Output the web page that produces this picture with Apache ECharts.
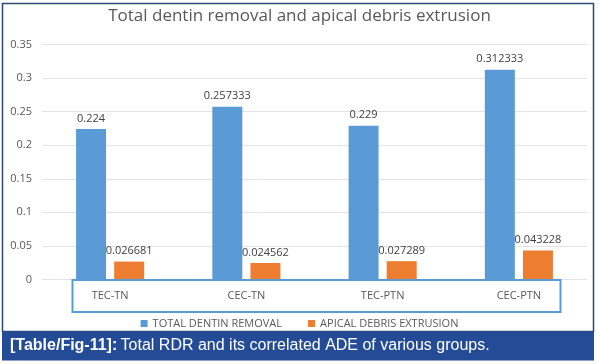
<!DOCTYPE html>
<html><head><meta charset="utf-8">
<script src="https://cdn.jsdelivr.net/npm/echarts@6/dist/echarts.min.js"></script>
<style>html,body{margin:0;padding:0;background:#fff}#c{width:599px;height:364px}</style>
</head><body><div id="c"></div>
<script>
const categories = ['TEC-TN', 'CEC-TN', 'TEC-PTN', 'CEC-PTN'];
const totalDentinRemoval = [0.224, 0.257333, 0.229, 0.312333];
const apicalDebrisExtrusion = [0.026681, 0.024562, 0.027289, 0.043228];
const seriesNames = ['TOTAL DENTIN REMOVAL', 'APICAL DEBRIS EXTRUSION'];
const yTicks = [0, 0.05, 0.1, 0.15, 0.2, 0.25, 0.3, 0.35];

const chart = echarts.init(document.getElementById('c'), null, {renderer: 'canvas'});
const txt = '#595959';
const font = '"Open Sans", "Noto Sans", sans-serif';
chart.setOption({
  animation: false,
  backgroundColor: '#ffffff',
  title: {
    text: 'Total dentin removal and apical debris extrusion',
    left: 'center', top: 3,
    textStyle: {color: txt, fontSize: 17, fontWeight: 'normal', fontFamily: font}
  },
  legend: {
    data: seriesNames, top: 313, left: 'center', itemGap: 26,
    itemWidth: 7, itemHeight: 7, icon: 'rect',
    textStyle: {color: txt, fontSize: 11, fontFamily: font}
  },
  grid: {left: 42, right: 12, top: 44.5, bottom: 84.5},
  xAxis: {
    type: 'category', data: categories,
    axisLine: {show: false}, axisTick: {show: false},
    axisLabel: {color: txt, fontSize: 11, fontFamily: font, margin: 11}
  },
  yAxis: {
    type: 'value', min: yTicks[0], max: yTicks[yTicks.length - 1], interval: 0.05,
    axisLine: {show: false}, axisTick: {show: false},
    axisLabel: {color: txt, fontSize: 11, fontFamily: font, margin: 10,
      formatter: v => String(parseFloat(v.toFixed(2)))},
    splitLine: {lineStyle: {color: '#e3e3e3', width: 1}}
  },
  series: [
    {name: seriesNames[0], type: 'bar', data: totalDentinRemoval, barWidth: 30, barGap: '27%',
     itemStyle: {color: '#5b9bd5'},
     label: {show: true, position: 'top', color: '#404040', fontSize: 11, fontFamily: font, distance: 5}},
    {name: seriesNames[1], type: 'bar', data: apicalDebrisExtrusion, barWidth: 30,
     itemStyle: {color: '#ed7d31'},
     label: {show: true, position: 'top', color: '#404040', fontSize: 11, fontFamily: font, distance: 5}}
  ],
  graphic: [
    {type: 'rect', z: 100, silent: true,
     shape: {x: 2.5, y: 3.5, width: 591, height: 328},
     style: {fill: 'none', stroke: '#2c4a6e', lineWidth: 1.5}},
    {type: 'rect', z: 100, silent: true,
     shape: {x: 72.5, y: 280, width: 488, height: 32},
     style: {fill: 'none', stroke: '#5b9bd5', lineWidth: 2}},
    {type: 'rect', z: 100, silent: true,
     shape: {x: 2, y: 331.5, width: 592, height: 29},
     style: {fill: '#244b96'}},
    {type: 'text', z: 101, silent: true, left: 10, top: 338,
     style: {
       text: '{b|[Table/Fig-11]:} {n|Total RDR and its correlated ADE of various groups.}',
       rich: {
         b: {fill: '#ffffff', fontSize: 16, fontWeight: 'bold', fontFamily: '"Liberation Sans", Arial, sans-serif'},
         n: {fill: '#ffffff', fontSize: 16, fontFamily: '"Liberation Sans", Arial, sans-serif'}
       }
     }}
  ]
});
</script></body></html>
